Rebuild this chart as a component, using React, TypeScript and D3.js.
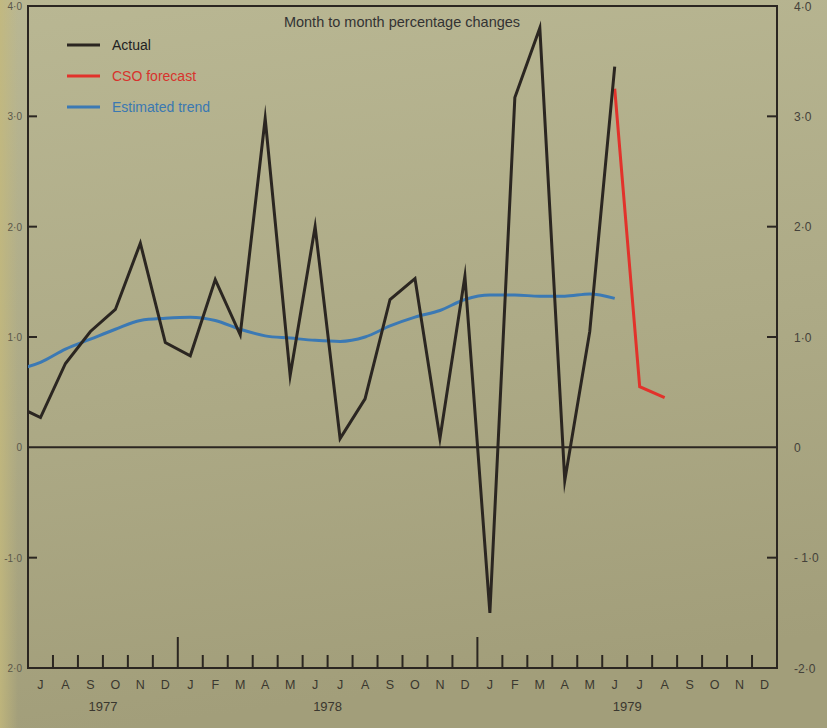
import React from "react";
import * as d3 from "d3";

// Months: index 0 = Jul 1977 ... index 29 = Dec 1979. A point for month i sits at i + 0.5.
const monthLetters = ["J","A","S","O","N","D","J","F","M","A","M","J","J","A","S","O","N","D","J","F","M","A","M","J","J","A","S","O","N","D"];
const years = ["1977", "1978", "1979"];
const yearCenters = [3, 12, 24]; // month-boundary index under which the year label sits
const yearBoundaries = [6, 18];

// Actual: Jun 1977 (lead-in, clipped at axis) .. Jun 1979
const actualStart = -1;
const actualValues = [0.38, 0.27, 0.76, 1.05, 1.25, 1.85, 0.95, 0.83, 1.52, 1.02, 2.98, 0.65, 2.0, 0.08, 0.44, 1.34, 1.53, 0.08, 1.55, -1.5, 3.17, 3.8, -0.3, 1.05, 3.45];

// CSO forecast: Jun 1979 .. Aug 1979
const forecastStart = 23;
const forecastValues = [3.25, 0.55, 0.45];

// Estimated trend: Jun 1977 (lead-in) .. Jun 1979
const trendStart = -1;
const trendValues = [0.7, 0.77, 0.89, 0.98, 1.07, 1.15, 1.17, 1.18, 1.15, 1.07, 1.01, 0.99, 0.97, 0.96, 1.0, 1.1, 1.18, 1.24, 1.34, 1.38, 1.38, 1.37, 1.37, 1.39, 1.35];

const yTicks = [4, 3, 2, 1, 0, -1, -2];
const leftTickLabels = ["4·0", "3·0", "2·0", "1·0", "0", "-1·0", "2·0"];
const rightTickLabels = ["4·0", "3·0", "2·0", "1·0", "0", "- 1·0", "-2·0"];

const legendLabels = ["Actual", "CSO forecast", "Estimated trend"];
const title = "Month to month percentage changes";

const W = 827;
const H = 728;
const FONT = "'Liberation Sans', Arial, Helvetica, sans-serif";
const INK = "#2b2621";
const RED = "#e2322b";
const BLUE = "#3b79b4";

export default function App() {
  const left = 28;
  const right = 777;
  const top = 6;
  const bottom = 668;

  const x = d3.scaleLinear().domain([0, 30]).range([left, right]);
  const y = d3.scaleLinear().domain([-2, 4]).range([bottom, top]);

  const seriesPts = (start: number, vals: number[]) =>
    vals.map((v, i) => [x(start + i + 0.5), y(v)] as [number, number]);

  const straight = d3.line().curve(d3.curveLinear);
  const smooth = d3.line().curve(d3.curveMonotoneX);

  const actualPath = straight(seriesPts(actualStart, actualValues)) || "";
  const forecastPath = straight(seriesPts(forecastStart, forecastValues)) || "";
  const trendPath = smooth(seriesPts(trendStart, trendValues)) || "";

  const legendColors = [INK, RED, BLUE];
  const legendTextColors = ["#222", "#d8332c", "#3a78b2"];

  return (
    <div style={{ position: "fixed", left: 0, top: 0, width: W, height: H }}>
      <svg width={W} height={H} viewBox={`0 0 ${W} ${H}`} style={{ display: "block" }}>
        <defs>
          <linearGradient id="paper" x1="0" y1="0" x2="0.15" y2="1">
            <stop offset="0" stopColor="#b9b793" />
            <stop offset="0.55" stopColor="#adaa86" />
            <stop offset="1" stopColor="#a29e7a" />
          </linearGradient>
          <linearGradient id="edge" x1="0" y1="0" x2="1" y2="0">
            <stop offset="0" stopColor="#c4b97c" stopOpacity="0.8" />
            <stop offset="1" stopColor="#c4b97c" stopOpacity="0" />
          </linearGradient>
          <clipPath id="plot">
            <rect x={left} y={top} width={right - left} height={bottom - top} />
          </clipPath>
        </defs>
        <rect x={0} y={0} width={W} height={H} fill="url(#paper)" />
        <rect x={0} y={0} width={18} height={H} fill="url(#edge)" />

        {/* title */}
        <text x={402} y={27} textAnchor="middle" fontFamily={FONT} fontSize={14.5} fill="#333">
          {title}
        </text>

        {/* legend */}
        {legendLabels.map((lab, i) => (
          <g key={lab}>
            <line x1={67} x2={100} y1={45 + i * 31} y2={45 + i * 31} stroke={legendColors[i]} strokeWidth={3} />
            <text x={112} y={50 + i * 31} fontFamily={FONT} fontSize={14} fill={legendTextColors[i]}>
              {lab}
            </text>
          </g>
        ))}

        {/* frame */}
        <path
          d={`M${left},${bottom} L${left},${top} L${right},${top} L${right},${bottom} Z`}
          fill="none"
          stroke={INK}
          strokeWidth={2}
        />
        {/* zero line */}
        <line x1={left} x2={right} y1={y(0)} y2={y(0)} stroke={INK} strokeWidth={2} />

        {/* y ticks */}
        {yTicks.map((t, i) => (
          <g key={"yt" + t}>
            {t !== 0 && t !== 4 && t !== -2 && (
              <>
                <line x1={left} x2={left + 9} y1={y(t)} y2={y(t)} stroke={INK} strokeWidth={2} />
                <line x1={right - 10} x2={right} y1={y(t)} y2={y(t)} stroke={INK} strokeWidth={2} />
              </>
            )}
            <text x={22} y={y(t) + 4} textAnchor="end" fontFamily={FONT} fontSize={10} fill="#5a574a">
              {leftTickLabels[i]}
            </text>
            <text x={794} y={y(t) + 4.5} fontFamily={FONT} fontSize={12} fill="#44413a">
              {rightTickLabels[i]}
            </text>
          </g>
        ))}

        {/* x ticks (month boundaries) */}
        {d3.range(1, 30).map((b) => {
          const long = yearBoundaries.includes(b);
          return (
            <line
              key={"xt" + b}
              x1={x(b)}
              x2={x(b)}
              y1={bottom}
              y2={bottom - (long ? 31 : 13)}
              stroke={INK}
              strokeWidth={2}
            />
          );
        })}
        {monthLetters.map((m, i) => (
          <text
            key={"m" + i}
            x={x(i + 0.5)}
            y={bottom + 21}
            textAnchor="middle"
            fontFamily={FONT}
            fontSize={12.5}
            fill="#3a372f"
          >
            {m}
          </text>
        ))}
        {years.map((yr, i) => (
          <text
            key={yr}
            x={x(yearCenters[i])}
            y={bottom + 43}
            textAnchor="middle"
            fontFamily={FONT}
            fontSize={13}
            fill="#3a372f"
          >
            {yr}
          </text>
        ))}

        {/* series */}
        <g clipPath="url(#plot)">
          <path d={trendPath} fill="none" stroke={BLUE} strokeWidth={3} />
          <path d={forecastPath} fill="none" stroke={RED} strokeWidth={3} />
          <path
            d={actualPath}
            fill="none"
            stroke={INK}
            strokeWidth={3}
            strokeLinejoin="miter"
            strokeMiterlimit={10}
          />
        </g>
      </svg>
    </div>
  );
}
